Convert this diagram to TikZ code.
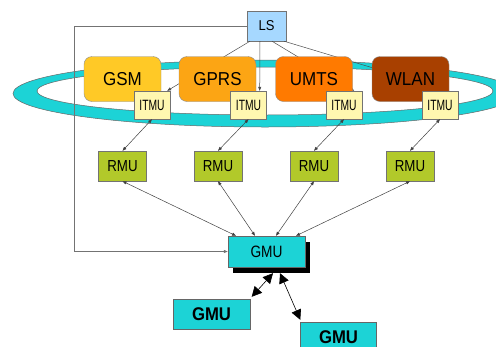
\documentclass[tikz,border=0pt]{standalone}
\usepackage{fontspec}
\setmainfont{Liberation Sans}
\usepackage{tikz}
\usetikzlibrary{arrows.meta}
\usetikzlibrary{shadows}
\definecolor{lsblue}{HTML}{A6D8FF}
\definecolor{gsmcol}{HTML}{FFC926}
\definecolor{gprscol}{HTML}{FCA514}
\definecolor{umtscol}{HTML}{FF7A00}
\definecolor{wlancol}{HTML}{A84000}
\definecolor{itmucol}{HTML}{FFF7B0}
\definecolor{rmucol}{HTML}{B2C92A}
\definecolor{gmucol}{HTML}{1CD3D6}
\newcommand{\talltext}[2]{\scalebox{1}[#1]{#2}}

\begin{document}
\begin{tikzpicture}[
    x=1pt, y=-1pt,
    net box/.style={draw=black!45, rounded corners=8pt, minimum width=77pt, minimum height=45pt, inner sep=0pt, font=\fontsize{17}{17}\selectfont},
    itmu box/.style={draw=black!55, fill=itmucol, minimum width=36pt, minimum height=28pt, inner sep=0pt, font=\fontsize{10.3}{10.3}\selectfont},
    rmu box/.style={draw=black!55, fill=rmucol, minimum width=48pt, minimum height=30pt, inner sep=0pt, font=\fontsize{13.3}{13.3}\selectfont},
    gmu box/.style={draw=black!60, fill=gmucol, minimum width=77pt, minimum height=31pt, inner sep=0pt},
    ls line/.style={draw=black!70, line width=0.5pt},
    thin arrow/.style={{Triangle[length=4pt,width=3pt]}-{Triangle[length=4pt,width=3pt]}, draw=black!75, line width=0.5pt},
    big arrow/.style={{Triangle[length=10pt,width=10pt]}-{Triangle[length=10pt,width=10pt]}, line width=0.6pt}
    ]

    \useasboundingbox (0,0) rectangle (496,346);
    \clip (0,0) rectangle (496,346);

    % ring
    \path[fill=gmucol, draw=black!60, line width=0.5pt, even odd rule]
        (265,93.5) ellipse [x radius=252, y radius=33.5]
        (265,91) ellipse [x radius=228, y radius=24];

    % nodes
    \node[draw=black!55, fill=lsblue, minimum width=39pt, minimum height=30pt, inner sep=0pt, font=\fontsize{13}{13}\selectfont] (ls) at (266.5,26) {\talltext{1.1}{LS}};
    \node[itmu box] (itmu1) at (152,105) {\talltext{1.45}{ITMU}};
    \node[itmu box] (itmu2) at (248.5,105) {\talltext{1.45}{ITMU}};
    \node[itmu box] (itmu3) at (344,105) {\talltext{1.45}{ITMU}};
    \node[itmu box] (itmu4) at (440,105) {\talltext{1.45}{ITMU}};

    % LS to ITMU lines (behind the networks)
    \draw[ls line, -{Triangle[length=4pt,width=3pt]}] ([xshift=-16.5pt]ls.south) -- ([xshift=-3pt]itmu1.north east);
    \draw[ls line, -{Triangle[length=4pt,width=3pt]}] ([xshift=-6.5pt]ls.south) -- ([xshift=-7pt]itmu2.north east);
    \draw[ls line, -{Triangle[length=4pt,width=3pt]}] ([xshift=5.5pt]ls.south) -- ([xshift=-8pt]itmu3.north east);
    \draw[ls line, -{Triangle[length=4pt,width=3pt]}] ([xshift=17.5pt]ls.south) -- ([xshift=-9pt]itmu4.north east);

    % networks
    \node[net box, fill=gsmcol] (gsm) at (122.5,79) {\talltext{1.1}{GSM}};
    \node[net box, fill=gprscol] (gprs) at (217.5,79) {\talltext{1.1}{GPRS}};
    \node[net box, fill=umtscol] (umts) at (314,79) {\talltext{1.1}{UMTS}};
    \node[net box, fill=wlancol] (wlan) at (410.5,79) {\talltext{1.1}{WLAN}};
    \foreach \i in {1,...,4}
        \node[itmu box] at (itmu\i) {\talltext{1.45}{ITMU}};

    % RMU
    \node[rmu box] (rmu1) at (122.5,166) {\talltext{1.2}{RMU}};
    \node[rmu box] (rmu2) at (218,166) {\talltext{1.2}{RMU}};
    \node[rmu box] (rmu3) at (314,166) {\talltext{1.2}{RMU}};
    \node[rmu box] (rmu4) at (410,166) {\talltext{1.2}{RMU}};

    % GMU
    \node[gmu box, font=\fontsize{13.7}{13.7}\selectfont, drop shadow={shadow xshift=4.5pt, shadow yshift=-6pt, fill=black, opacity=1}] (gmu) at (266.5,251.5) {\talltext{1.2}{GMU}};
    \node[gmu box, minimum height=30pt, font=\bfseries\fontsize{16.7}{16.7}\selectfont] (gmuleft) at (211.5,314) {\talltext{1.1}{GMU}};
    \node[gmu box, minimum width=76pt, minimum height=30pt, font=\bfseries\fontsize{16.7}{16.7}\selectfont] (gmuright) at (338.5,337) {\talltext{1.1}{GMU}};

    % connections
    \foreach \i in {1,...,4}
        \draw[thin arrow] (itmu\i.south) -- (rmu\i.north);
    \draw[thin arrow] (rmu1.south) -- ([xshift=-30.5pt]gmu.north);
    \draw[thin arrow] (rmu2.south) -- ([xshift=-11.5pt]gmu.north);
    \draw[thin arrow] (rmu3.south) -- ([xshift=9.5pt]gmu.north);
    \draw[thin arrow] (rmu4.south) -- ([xshift=29.5pt]gmu.north);
    \coordinate (bend) at (74,26);
    \draw[draw=black!55, line width=0.8pt, -{Triangle[length=4pt,width=3pt]}] (ls.west) -- (bend) |- (gmu.west);
    \draw[big arrow] ([shift={(6.5,6)}]gmu.south) -- ([shift={(1.5,-2)}]gmuleft.north east);
    \draw[big arrow] ([shift={(13.5,6)}]gmu.south) -- ([shift={(0,-2)}]gmuright.north west);
\end{tikzpicture}
\end{document}
